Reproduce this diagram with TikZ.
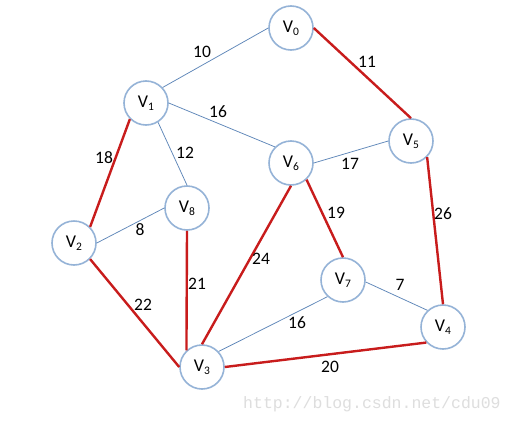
\documentclass[tikz,border=0pt]{standalone}
\usepackage{fontspec}
\setmainfont{Carlito}
\newfontfamily\wmfont{Liberation Mono}
\definecolor{ringblue}{RGB}{149,179,215}
\definecolor{thinblue}{RGB}{95,135,185}
\definecolor{mstred}{RGB}{200,28,28}
\definecolor{wmgray}{RGB}{222,222,222}
\tikzset{
  vert/.style={circle,draw=ringblue,line width=1.6pt,fill=white,minimum size=44pt,inner sep=0pt,font=\fontsize{18}{18}\selectfont},
  thin/.style={draw=thinblue,line width=0.75pt},
  mst/.style={draw=mstred,line width=2.4pt},
  wt/.style={font=\fontsize{17.5}{17.5}\selectfont,inner sep=0pt}
}
\newcommand{\vlab}[1]{V{\raisebox{-0.3ex}{\fontsize{11.5}{11.5}\selectfont #1}}}
\begin{document}
\begin{tikzpicture}[x=1pt,y=-1pt]
\useasboundingbox[fill=white] (0,0) rectangle (513,423);
\node[vert] (v0) at (291,28) {\vlab{0}};
\node[vert] (v1) at (146,103) {\vlab{1}};
\node[vert] (v5) at (411,141) {\vlab{5}};
\node[vert] (v6) at (291,163) {\vlab{6}};
\node[vert] (v8) at (187,208) {\vlab{8}};
\node[vert] (v2) at (74,243) {\vlab{2}};
\node[vert] (v7) at (343,280) {\vlab{7}};
\node[vert] (v4) at (443,327) {\vlab{4}};
\node[vert] (v3) at (202,367) {\vlab{3}};
\path[thin] (v1.43) -- (v0.west);
\path[thin] (v1.east) -- (v6.135);
\path[thin] (v1.-58) -- (v8.north);
\path[thin] (v2.east) -- (v8.west);
\path[thin] (v6.east) -- (v5.west);
\path[thin] (v7.-5) -- (v4.133);
\path[thin] (v3.43) -- (v7.227);
\path[mst] (v0.east) -- (v5.north);
\path[mst] (v1.225) -- (v2.45);
\path[mst] (v2.-45) -- (v3.west);
\path[mst] (v8.south) -- (v3.133);
\path[mst] (v6.south) -- (v3.north);
\path[mst] (v6.-47) -- (v7.north);
\path[mst] (v5.-45) -- (v4.north);
\path[mst] (v3.east) -- (v4.223);
\node[wt] (w10) at (202,52) {10};
\node[wt] (w16a) at (218,112) {16};
\node[wt] (w12) at (185,153) {12};
\node[wt] (w18) at (104,158) {18};
\node[wt] (w8) at (140,230) {8};
\node[wt] (w17) at (350,164) {17};
\node[wt] (w11) at (367,62) {11};
\node[wt] (w19) at (336,213) {19};
\node[wt] (w26) at (443,214) {26};
\node[wt] (w24) at (261,259) {24};
\node[wt] (w21) at (197,284) {21};
\node[wt] (w22) at (143,305) {22};
\node[wt] (w16b) at (297,323) {16};
\node[wt] (w7) at (400,285) {7};
\node[wt] (w20) at (330,367) {20};
\node[font=\wmfont\fontsize{16.5}{16.5}\selectfont,text=wmgray,anchor=west,inner sep=0pt] (wm) at (243,404) {http://blog.csdn.net/cdu09};
\end{tikzpicture}
\end{document}
